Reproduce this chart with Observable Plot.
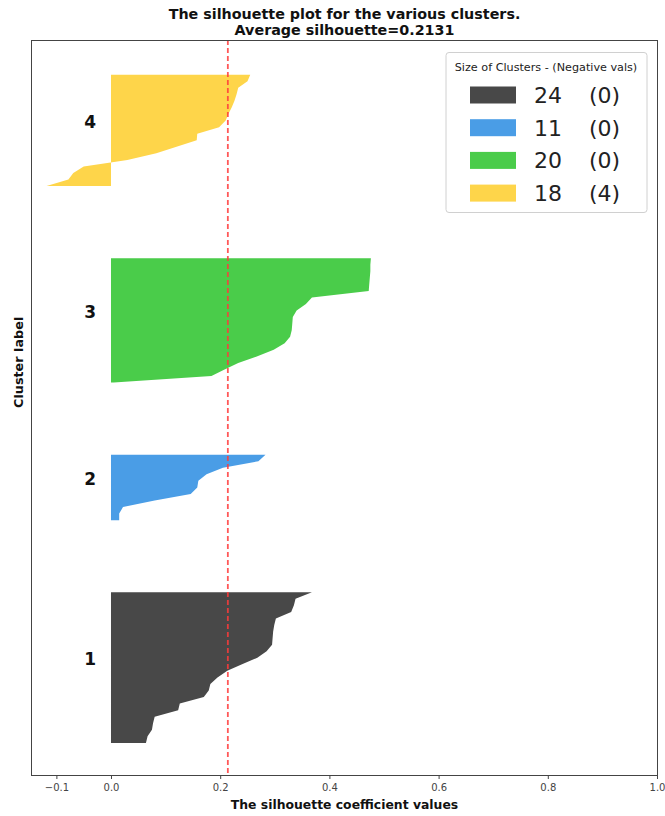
<!DOCTYPE html>
<html>
<head>
<meta charset="utf-8">
<script src="https://cdn.jsdelivr.net/npm/d3@7"></script>
<script src="https://cdn.jsdelivr.net/npm/@observablehq/plot@0.6"></script>
<style>
  html, body { margin: 0; padding: 0; background: white; }
</style>
</head>
<body>
<div id="chart"></div>
<script>
// ---- data ----
const clusterLabels = ["1", "2", "3", "4"];
const clusterColors = ["#484848", "#4a9de6", "#4acc4a", "#fed54a"];
const silhouette1 = [0.064, 0.067, 0.075, 0.077, 0.080, 0.123, 0.126, 0.170, 0.179, 0.182, 0.195, 0.213,
                     0.240, 0.268, 0.285, 0.295, 0.296, 0.297, 0.299, 0.302, 0.330, 0.335, 0.338, 0.368];
const silhouette2 = [0.015, 0.015, 0.022, 0.080, 0.146, 0.158, 0.160, 0.175, 0.205, 0.270, 0.283];
const silhouette3 = [0.005, 0.184, 0.208, 0.233, 0.267, 0.298, 0.318, 0.328, 0.331, 0.332, 0.333, 0.340,
                     0.357, 0.368, 0.472, 0.473, 0.474, 0.475, 0.475, 0.476];
const silhouette4 = [-0.118, -0.078, -0.069, -0.050, 0.030, 0.083, 0.120, 0.157, 0.158, 0.198, 0.210,
                     0.215, 0.221, 0.226, 0.230, 0.233, 0.250, 0.255];
const silhouetteValues = [silhouette1, silhouette2, silhouette3, silhouette4];
const negativeCounts = [0, 0, 0, 4];
const avgSilhouette = 0.2131;
const xTicks = [-0.1, 0.0, 0.2, 0.4, 0.6, 0.8, 1.0];
const titleLines = ["The silhouette plot for the various clusters.", "Average silhouette=" + avgSilhouette.toFixed(4)];
const xLabel = "The silhouette coefficient values";
const yLabel = "Cluster label";
const legendTitle = "Size of Clusters - (Negative vals)";

// ---- build rows (silhouette layout: gap of 10 between clusters) ----
const rows = [];
const labelsPos = [];
let yLower = 10;
silhouetteValues.forEach((vals, ci) => {
  vals.forEach((v, j) => rows.push({cluster: clusterLabels[ci], y: yLower + j, v}));
  labelsPos.push({label: clusterLabels[ci], y: yLower + 0.5 * vals.length});
  yLower += vals.length + 10;
});

const plot = Plot.plot({
  width: 665,
  height: 816,
  marginTop: 40,
  marginBottom: 41,
  marginLeft: 31,
  marginRight: 8,
  style: {fontFamily: "DejaVu Sans", background: "white"},
  x: {domain: [-0.1465, 1.0]},
  y: {domain: [5.1, 117.3], axis: null},
  color: {domain: clusterLabels, range: clusterColors},
  marks: [
    Plot.areaX(rows, {x1: 0, x2: "v", y: "y", z: "cluster", fill: "cluster", curve: "linear"}),
    Plot.ruleX([avgSilhouette], {stroke: "#ff3b3b", strokeOpacity: 0.85, strokeWidth: 1.8, strokeDasharray: "5,3"}),
    Plot.text(labelsPos, {x: -0.05, y: "y", text: "label", textAnchor: "start", lineAnchor: "bottom",
      dy: 0, fontSize: 17, fontWeight: "bold", fill: "#111"}),
    Plot.frame({stroke: "#444", strokeWidth: 1}),
    Plot.axisX({ticks: xTicks, tickFormat: d3.format(".1f"), label: null, tickSize: 4,
      fontSize: 10, color: "#444", tickPadding: 4}),
    Plot.text([xLabel], {frameAnchor: "bottom", lineAnchor: "middle", dy: 30, fontSize: 12.4, fontWeight: "bold", fill: "#111"}),
    Plot.text([yLabel], {frameAnchor: "left", dx: -13, rotate: -90, fontSize: 12.8, fontWeight: "bold", fill: "#111"}),
    Plot.text([titleLines[0]], {frameAnchor: "top", lineAnchor: "middle", dy: -26, fontSize: 14.3, fontWeight: "bold", fill: "#111"}),
    Plot.text([titleLines[1]], {frameAnchor: "top", lineAnchor: "middle", dy: -10, fontSize: 14.3, fontWeight: "bold", fill: "#111"})
  ]
});

// ---- legend ----
const svg = d3.select(plot);
const lg = svg.append("g").attr("font-family", "DejaVu Sans").attr("text-anchor", "start");
lg.append("rect").attr("x", 446).attr("y", 52.5).attr("width", 201).attr("height", 160)
  .attr("rx", 3).attr("fill", "white").attr("fill-opacity", 0.85).attr("stroke", "#d0d0d0");
lg.append("text").attr("x", 546).attr("y", 71).attr("text-anchor", "middle")
  .attr("font-size", 11.2).attr("fill", "#222").text(legendTitle);
silhouetteValues.forEach((vals, i) => {
  const cy = 95 + i * 32.7;
  lg.append("rect").attr("x", 470).attr("y", cy - 8.5).attr("width", 46).attr("height", 17)
    .attr("fill", clusterColors[i]);
  lg.append("text").attr("x", 534).attr("y", cy + 8).attr("font-size", 22).attr("fill", "#222")
    .text(String(vals.length));
  lg.append("text").attr("x", 589).attr("y", cy + 8).attr("font-size", 22).attr("fill", "#222")
    .text("(" + negativeCounts[i] + ")");
});

document.getElementById("chart").appendChild(plot);
</script>
</body>
</html>
